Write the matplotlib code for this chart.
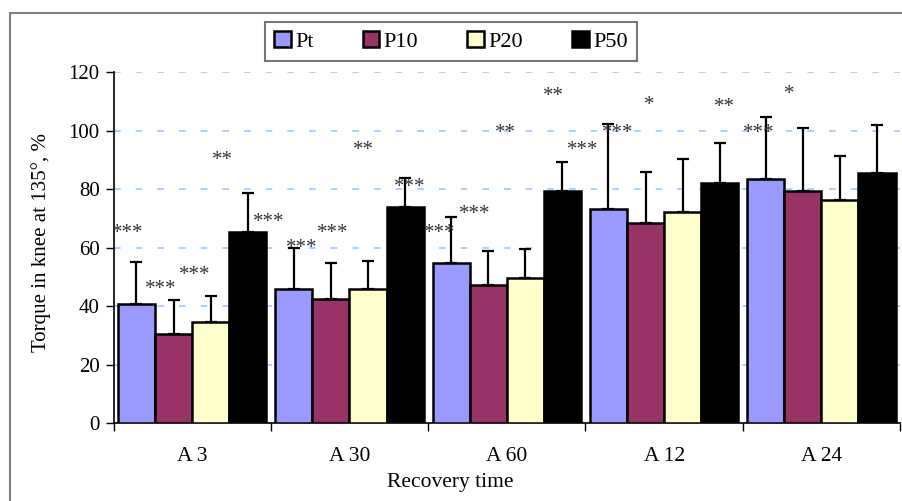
import matplotlib.pyplot as plt
import numpy as np
from matplotlib.patches import Rectangle

plt.rcParams["font.family"] = ["Liberation Serif", "DejaVu Serif"]

groups = ["A 3", "A 30", "A 60", "A 12", "A 24"]
series = ["Pt", "P10", "P20", "P50"]
colors = ["#9999ff", "#993366", "#ffffcc", "#000000"]

pt = [40.8, 45.8, 54.6, 73.2, 83.4]
p10 = [30.5, 42.5, 47.1, 68.4, 79.2]
p20 = [34.7, 45.7, 49.6, 72.2, 76.4]
p50 = [65.3, 73.9, 79.3, 82.2, 85.6]

pt_err = [14.3, 14.0, 16.0, 29.1, 21.4]
p10_err = [11.4, 12.2, 11.7, 17.5, 21.7]
p20_err = [8.6, 9.8, 9.8, 18.1, 14.8]
p50_err = [13.5, 9.8, 9.9, 13.6, 16.3]

# significance marks: label, x (group units), y (value)
star_text = ["***", "***", "***", "**", "***",
             "***", "***", "**", "***",
             "***", "***", "**", "**", "***",
             "***", "*", "**",
             "***", "*"]
star_x = [-0.411, -0.197, 0.015, 0.191, 0.488,
          0.698, 0.895, 1.086, 1.383,
          1.574, 1.796, 1.992, 2.299, 2.483,
          2.708, 2.905, 3.387,
          3.599, 3.794]
star_y = [65.9, 46.7, 51.6, 90.8, 69.7,
          60.8, 65.9, 94.2, 81.7,
          65.9, 72.5, 100, 112.8, 94.3,
          100, 109.6, 109,
          100, 113.3]

values = [pt, p10, p20, p50]
errors = [pt_err, p10_err, p20_err, p50_err]

fig = plt.figure(figsize=(9.03, 5.01), dpi=100)
ax = fig.add_axes([0.1257, 0.1557, 0.871, 0.7003])

# outer chart frame
fig.patches.append(Rectangle((10 / 903, -0.1), 1.2, 1 - 13 / 501 + 0.1,
                             transform=fig.transFigure, fill=False,
                             edgecolor="#808080", linewidth=1.5))

x = np.arange(len(groups))
w = 0.236

for j, name in enumerate(series):
    pos = x + (j - 1.5) * w
    ax.bar(pos, values[j], w, color=colors[j], edgecolor="black",
           linewidth=1.8, label=name, zorder=3)
    ax.errorbar(pos, values[j], yerr=[np.zeros(len(groups)), errors[j]],
                fmt="none", ecolor="black", elinewidth=1.6, capsize=4.5,
                capthick=1.6, zorder=4)

for t, sx, sy in zip(star_text, star_x, star_y):
    ax.text(sx, sy - 2.6, t, ha="center", va="baseline", fontsize=15,
            color="#333333", zorder=5)

ax.set_xlim(-0.5, 4.5)
ax.set_ylim(0, 120)
ax.set_yticks(range(0, 121, 20))
ax.yaxis.grid(True, color="#99ccff", linestyle=(0, (4, 9)), linewidth=1.2)
ax.set_axisbelow(True)

ax.set_xticks(np.arange(-0.5, 5, 1))
ax.set_xticklabels([])
ax.set_xticks(x, minor=True)
ax.set_xticklabels(groups, minor=True)
ax.tick_params(axis="x", which="minor", length=0, pad=17, labelsize=15.5)
ax.tick_params(axis="x", which="major", length=6, width=1, direction="out")
ax.tick_params(axis="y", length=6, width=1, direction="out", labelsize=15, pad=4)

for s in ["top", "right"]:
    ax.spines[s].set_visible(False)
ax.spines["left"].set_linewidth(1.2)
ax.spines["bottom"].set_linewidth(1.2)

ax.set_ylabel("Torque in knee at 135°, %", fontsize=15)
ax.yaxis.set_label_coords(-0.079, 0.515)
fig.text(450 / 903, 1 - 482 / 501, "Recovery time", ha="center", va="center",
         fontsize=15.5)

leg = fig.legend(loc="upper center", bbox_to_anchor=(451 / 903, 1 - 22 / 501),
                 ncol=4, fontsize=16, frameon=True, fancybox=False,
                 handlelength=0.75, handleheight=0.75, handletextpad=0.2,
                 columnspacing=2.2, borderpad=0.4, borderaxespad=0)
leg.get_frame().set_edgecolor("#555555")
leg.get_frame().set_linewidth(1.5)

fig.savefig("out.png", dpi=100)
